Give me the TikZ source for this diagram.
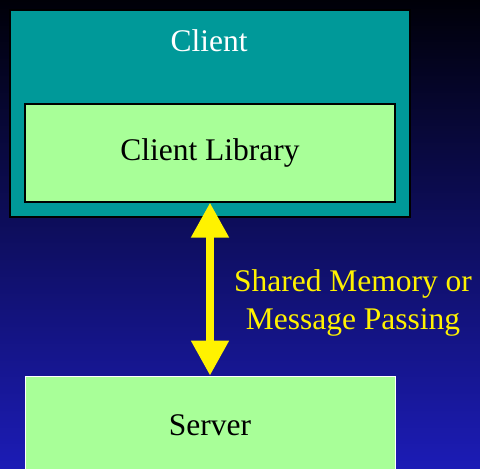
\documentclass[tikz,border=0pt]{standalone}
\usepackage{fontspec}
\setmainfont{Liberation Serif}
\usetikzlibrary{arrows.meta}

\definecolor{clientteal}{RGB}{0,153,153}
\definecolor{libgreen}{RGB}{168,255,152}
\definecolor{bgtop}{RGB}{0,0,8}
\definecolor{bgmid}{RGB}{10,10,110}
\definecolor{bgbottom}{RGB}{28,28,182}
\newcommand\slidefont{\fontsize{31.5}{38}\selectfont}

\begin{document}
\begin{tikzpicture}[x=1pt,y=-1pt,font=\slidefont,
  greenbox/.style={fill=libgreen,minimum width=370pt,minimum height=98pt,inner sep=0pt}]
  \clip (0,0) rectangle (480,469);
  \shade[top color=bgtop,middle color=bgmid,bottom color=bgbottom] (0,0) rectangle (480,469);
  % outer client frame with its title
  \node[draw=black,line width=1.5pt,fill=clientteal,minimum width=400pt,minimum height=207pt,inner sep=0pt] (client) at (210,113.5) {};
  \node[white] (clientname) at (209,41) {Client};
  \node[greenbox,draw=black,line width=1.2pt] (clientlib) at (210,153) {Client Library};
  \node[greenbox,draw=white,line width=0.8pt] (server) at (210,425) {Server};
  % link between library and server
  \draw[yellow,line width=8pt,{Triangle[width=36pt,length=35pt]}-{Triangle[width=36pt,length=35pt]}]
    (clientlib.south) -- (server.north);
  \node[yellow,align=center] (link) at (353,303) {Shared Memory or\\Message Passing};
\end{tikzpicture}
\end{document}
